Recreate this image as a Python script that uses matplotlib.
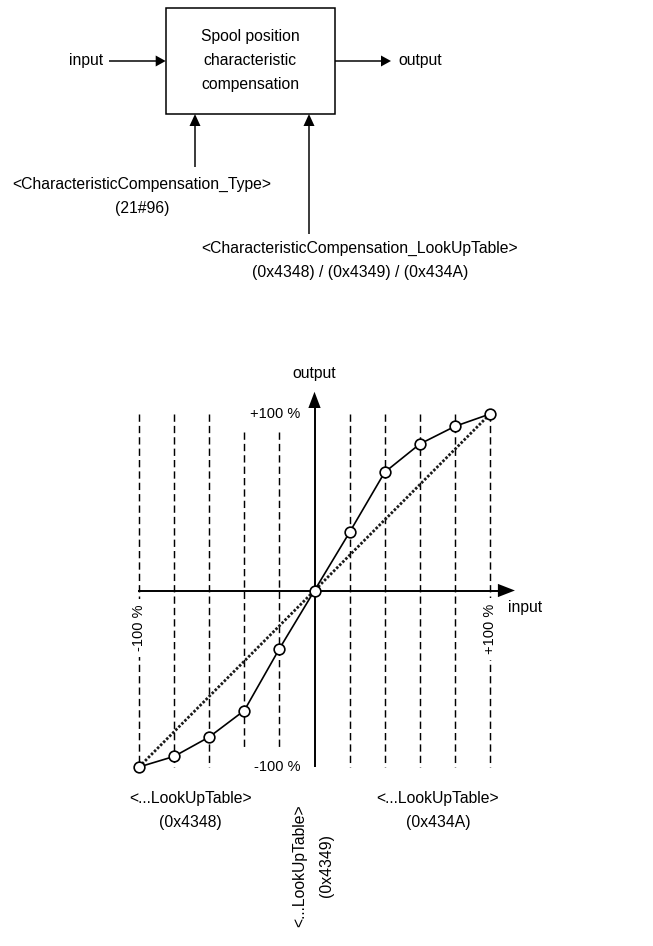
import matplotlib
matplotlib.use("Agg")
import matplotlib.pyplot as plt
from matplotlib.patches import Rectangle

plt.rcParams['font.family'] = ['Liberation Sans', 'DejaVu Sans']

# ---------------- data ----------------
# characteristic compensation curve (normalised input/output, -1 .. +1)
curve_x = [-1.0, -0.8, -0.6, -0.4, -0.2, 0.0, 0.2, 0.4, 0.6, 0.8, 1.0]
curve_y = [-1.0, -0.94, -0.83, -0.68, -0.33, 0.0, 0.33, 0.67, 0.83, 0.93, 1.0]
# linear reference (no compensation)
linear_x = [-1.0, 1.0]
linear_y = [-1.0, 1.0]
# support points of the look-up tables (dashed guide lines)
grid_x = [-1.0, -0.8, -0.6, -0.4, -0.2, 0.2, 0.4, 0.6, 0.8, 1.0]
grid_top = [1.0, 1.0, 1.0, 0.9, 0.9, 1.0, 1.0, 1.0, 1.0, 1.0]
grid_bottom = [-1.0, -1.0, -1.0, -0.89, -0.89, -1.0, -1.0, -1.0, -1.0, -1.0]

box_lines = ["Spool position", "characteristic", "compensation"]
type_label = ["<CharacteristicCompensation_Type>", "(21#96)"]
lut_label = ["<CharacteristicCompensation_LookUpTable>",
             "(0x4348) / (0x4349) / (0x434A)"]

FS = 11.3
FS_SMALL = 10.5

W, H = 653, 946
fig = plt.figure(figsize=(W / 100, H / 100), dpi=100)

# ---------------- block diagram (pixel coordinates) ----------------
ax0 = fig.add_axes([0, 0, 1, 1])
ax0.set_xlim(0, W)
ax0.set_ylim(H, 0)
ax0.axis('off')

bx0, by0, bx1, by1 = 165.7, 8.3, 335.0, 114.0
ax0.add_patch(Rectangle((bx0, by0), bx1 - bx0, by1 - by0, fill=False,
                        lw=1.1, ec='black'))
for txt, yy in zip(box_lines, [36.7, 60.7, 84.3]):
    ax0.text(250, yy, txt, ha='center', va='center', fontsize=FS)

arr = dict(color='black', lw=0, length_includes_head=True)
ax0.arrow(109, 61, bx0 - 109, 0, width=1.5, head_width=11, head_length=10, **arr)
ax0.arrow(bx1, 61, 391 - bx1, 0, width=1.5, head_width=11, head_length=10, **arr)
ax0.arrow(195, 167, 0, by1 - 167, width=1.5, head_width=11, head_length=12, **arr)
ax0.arrow(309, 234, 0, by1 - 234, width=1.5, head_width=11, head_length=12, **arr)

ax0.text(103, 61, "input", ha='right', va='center', fontsize=FS)
ax0.text(398, 61, "output", ha='left', va='center', fontsize=FS)
ax0.text(142, 184, type_label[0], ha='center', va='center', fontsize=FS)
ax0.text(142, 208.5, type_label[1], ha='center', va='center', fontsize=FS)
ax0.text(360, 248, lut_label[0], ha='center', va='center', fontsize=FS)
ax0.text(360, 272.5, lut_label[1], ha='center', va='center', fontsize=FS)

# ---------------- characteristic chart ----------------
x0px, sx = 314.5, 175.5
y0px, sy = 590.5, 176.5
xl = (-1.3, 1.45)
yl = (-1.6, 1.35)
left = x0px + xl[0] * sx
right = x0px + xl[1] * sx
bottom = y0px - yl[0] * sy
top = y0px - yl[1] * sy
ax = fig.add_axes([left / W, (H - bottom) / H, (right - left) / W,
                   (bottom - top) / H])
ax.set_xlim(*xl)
ax.set_ylim(*yl)
ax.axis('off')
ax.patch.set_alpha(0)

for gx, gt, gb in zip(grid_x, grid_top, grid_bottom):
    ax.plot([gx, gx], [gt, gb], color='black', lw=1.05,
            dashes=(5.0, 2.8), zorder=1)

# axes with arrows
ax.plot([-1.006, 1.05], [0, 0], color='black', lw=1.4, zorder=2,
        solid_capstyle='butt')
ax.arrow(1.0, 0, 0.142, 0, width=0.0001, head_width=0.075,
         head_length=0.097, length_includes_head=True, color='black', lw=0,
         zorder=2)
ax.plot([0, 0], [-1.0, 1.05], color='black', lw=1.4, zorder=2,
        solid_capstyle='butt')
ax.arrow(0, 1.0, 0, 0.126, width=0.0001, head_width=0.07,
         head_length=0.092, length_includes_head=True, color='black', lw=0,
         zorder=2)

ax.plot(linear_x, linear_y, color='#1a1a1a', lw=2.0, dashes=(0.9, 0.65),
        zorder=3)
ax.plot(curve_x, curve_y, color='black', lw=1.2, marker='o', ms=7.7,
        mfc='white', mec='black', mew=1.2, zorder=4)

ax.text(0, 1.232, "output", ha='center', va='center', fontsize=FS)
ax.text(1.103, -0.099, "input", ha='left', va='center', fontsize=FS)
ax.text(-0.225, 1.0, "+100 %", ha='center', va='center', fontsize=FS_SMALL)
ax.text(-0.215, -1.0, "-100 %", ha='center', va='center', fontsize=FS_SMALL)
ax.text(-1.0, -0.212, "-100 %", ha='center', va='center', rotation=90,
        fontsize=FS_SMALL, zorder=5,
        bbox=dict(fc='white', ec='none', pad=4))
ax.text(1.0, -0.218, "+100 %", ha='center', va='center', rotation=90,
        fontsize=FS_SMALL, zorder=5,
        bbox=dict(fc='white', ec='none', pad=4))

ax.text(-0.709, -1.176, "<...LookUpTable>", ha='center', va='center', fontsize=FS)
ax.text(-0.709, -1.312, "(0x4348)", ha='center', va='center', fontsize=FS)
ax.text(0.704, -1.176, "<...LookUpTable>", ha='center', va='center', fontsize=FS)
ax.text(0.704, -1.312, "(0x434A)", ha='center', va='center', fontsize=FS)
ax.text(-0.083, -1.561, "<...LookUpTable>", ha='center', va='center',
        rotation=90, fontsize=FS)
ax.text(0.071, -1.561, "(0x4349)", ha='center', va='center',
        rotation=90, fontsize=FS)

fig.savefig("out.png", dpi=100)
